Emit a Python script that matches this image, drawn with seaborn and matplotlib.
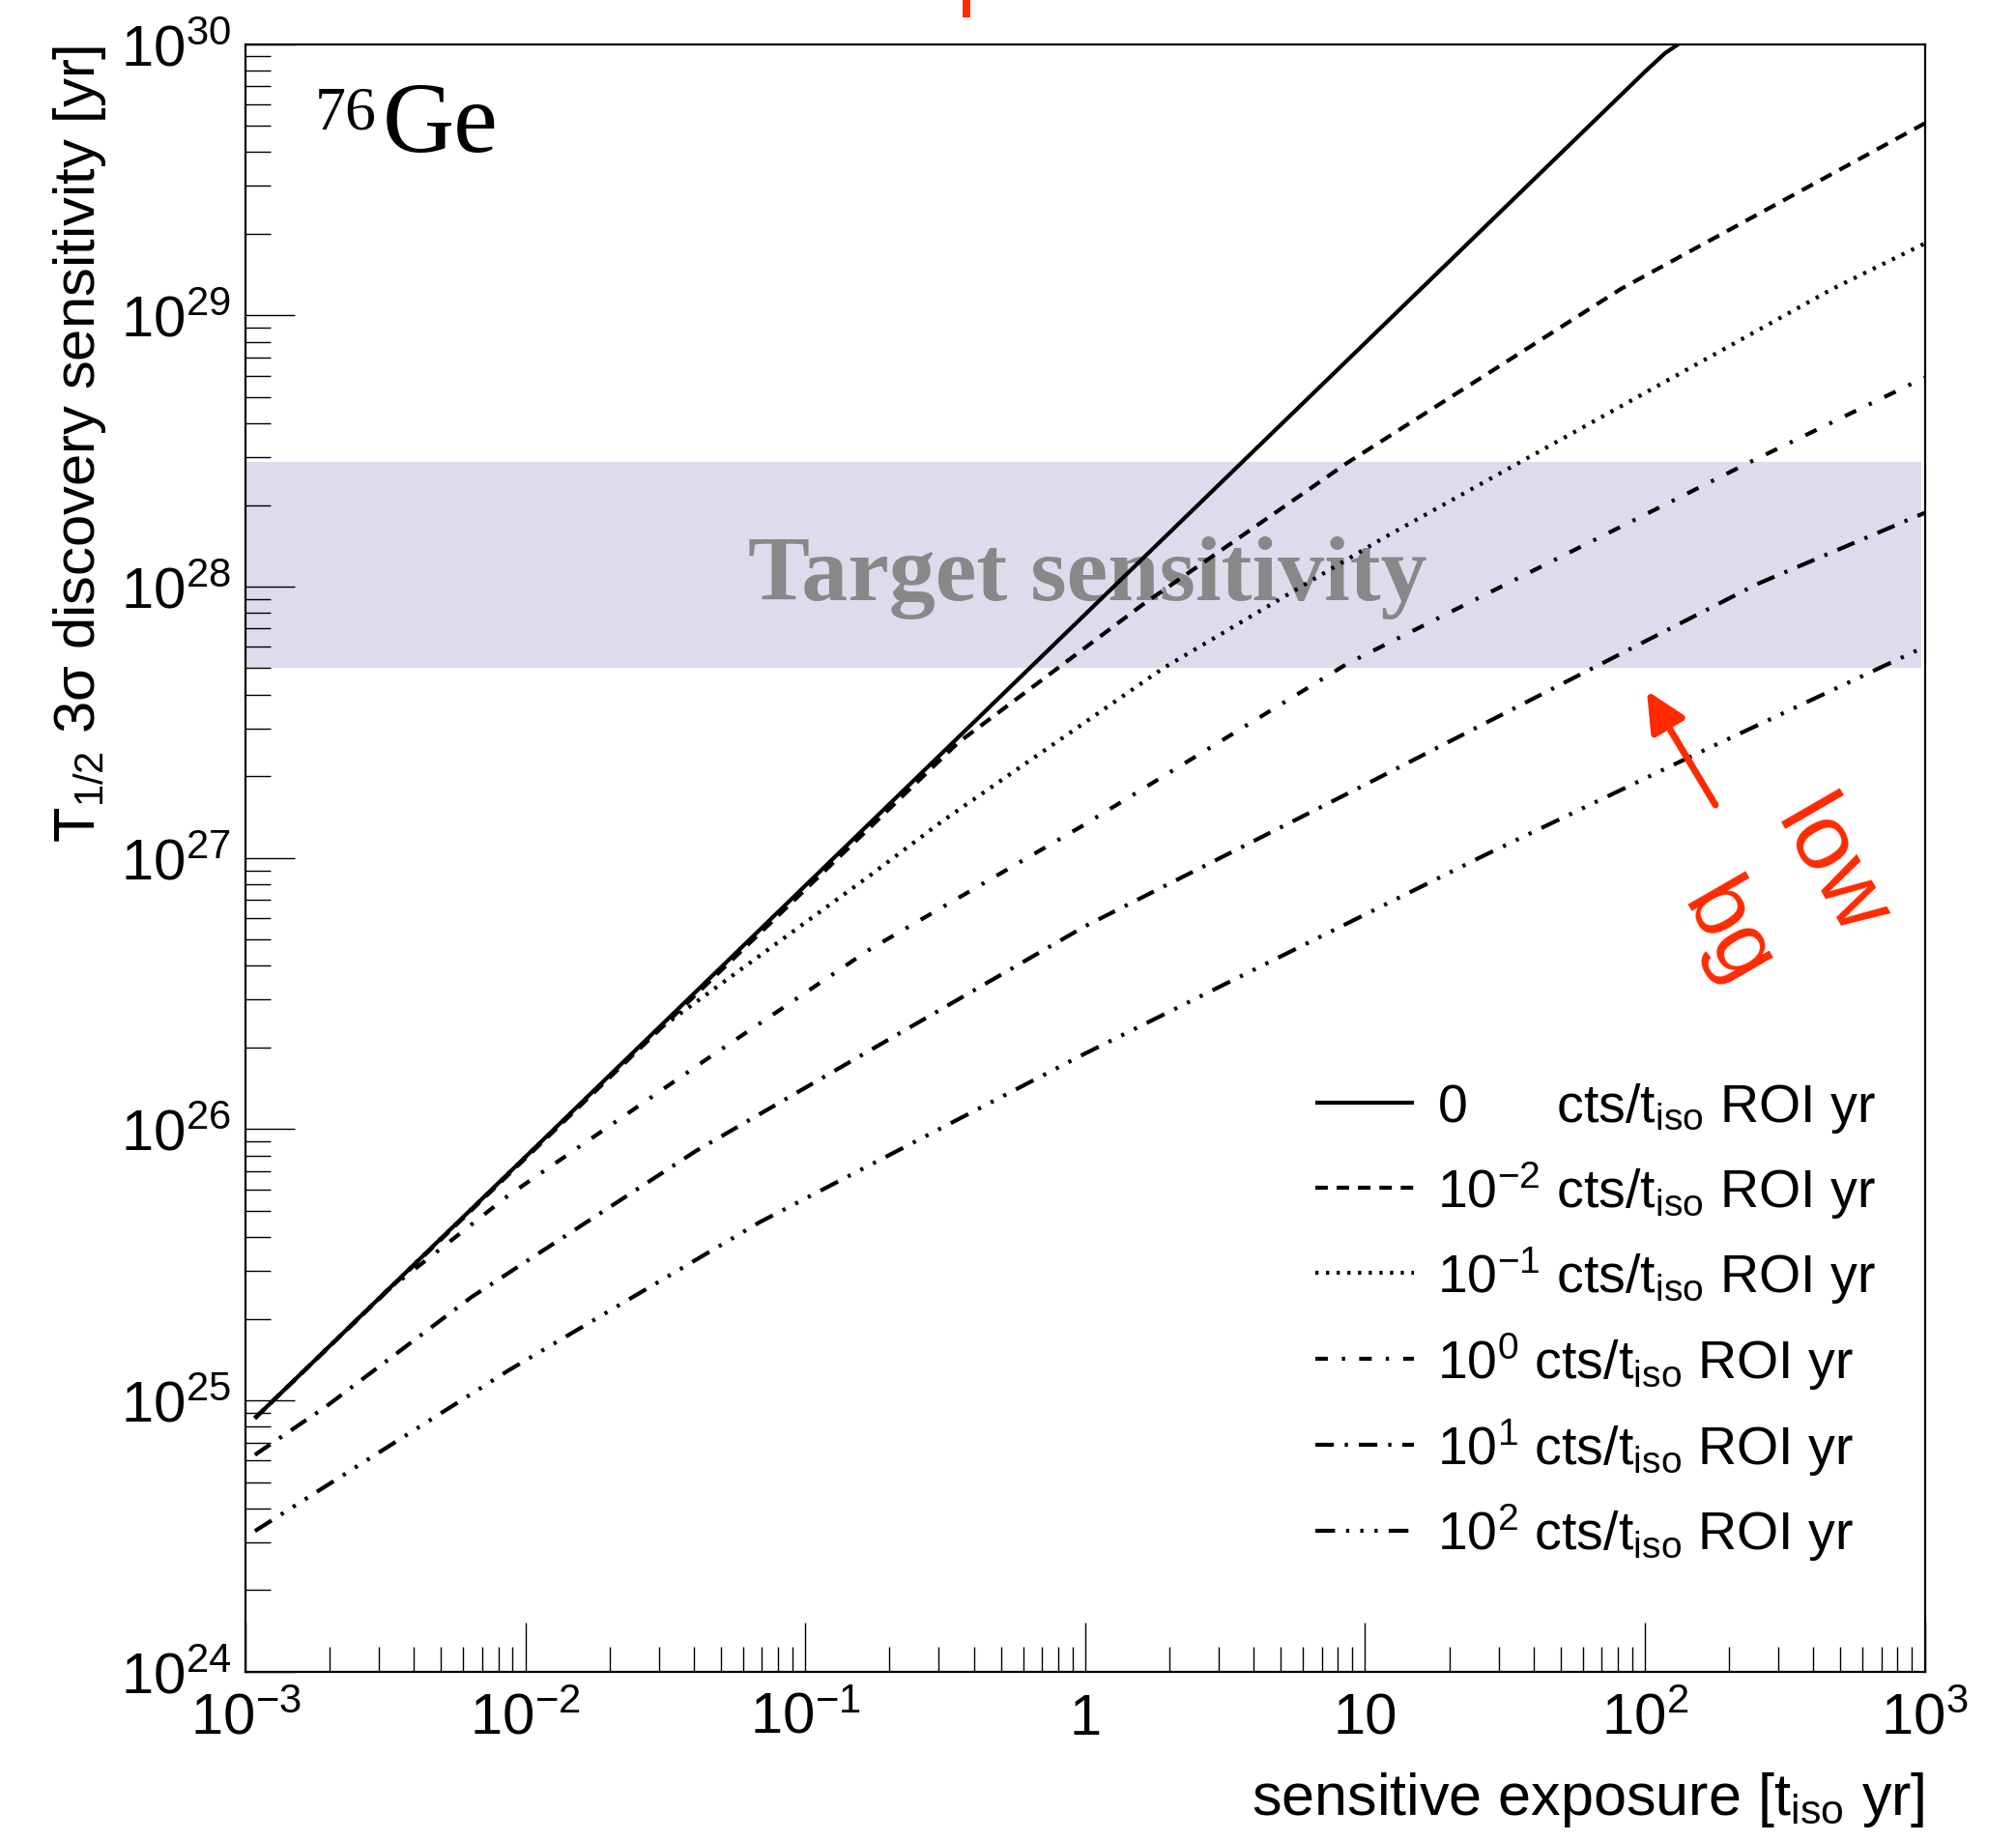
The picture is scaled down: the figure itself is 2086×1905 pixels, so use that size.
import matplotlib
matplotlib.use("Agg")
import matplotlib.pyplot as plt
import seaborn as sns
import pandas as pd
from matplotlib.patches import FancyArrowPatch, Rectangle
from matplotlib.ticker import FixedLocator, LogLocator, NullFormatter

# ---------------- data ----------------
exp_b0 = [1.08e-3, 1e-2, 1e-1, 1, 10, 100, 118, 132]
t_b0 = [8.6e24, 7.9e25, 7.9e26, 7.9e27, 7.9e28, 7.9e29, 9.25e29, 1.0e30]

exp_bm2 = [1.08e-3, 0.352, 1.61, 8.65, 82, 1000]
t_bm2 = [8.6e24, 2.66e27, 8.6e27, 2.86e28, 1.25e29, 5.1e29]

exp_bm1 = [1.08e-3, 0.029, 0.17, 0.31, 1.9, 11.5, 467, 1000]
t_bm1 = [8.6e24, 2.28e26, 8.6e26, 1.37e27, 5.0e27, 1.5e28, 1.25e29, 1.84e29]

exp_b00 = [1.08e-3, 3.15e-3, 8.7e-3, 0.0444, 0.17, 0.975, 8.65, 238, 1000]
t_b00 = [8.6e24, 2.5e25, 5.7e25, 1.81e26, 4.6e26, 1.31e27, 5.2e27, 2.88e28, 5.9e28]

exp_b01 = [1.08e-3, 1.94e-3, 6.4e-3, 0.0406, 0.17, 1.0, 9.7, 65, 251, 1000]
t_b01 = [6.3e24, 9.5e24, 2.4e25, 8.3e25, 1.95e26, 5.6e26, 1.83e27, 5.0e27, 1.02e28, 1.87e28]

exp_b02 = [1.08e-3, 8.7e-3, 0.069, 1.0, 26.6, 143, 1000]
t_b02 = [3.3e24, 1.29e25, 4.55e25, 1.9e26, 1.02e27, 2.34e27, 6.0e27]

legend_labels = [
    r"0      cts/t$_{\rm iso}$ ROI yr",
    r"10$^{-2}$ cts/t$_{\rm iso}$ ROI yr",
    r"10$^{-1}$ cts/t$_{\rm iso}$ ROI yr",
    r"10$^{0}$ cts/t$_{\rm iso}$ ROI yr",
    r"10$^{1}$ cts/t$_{\rm iso}$ ROI yr",
    r"10$^{2}$ cts/t$_{\rm iso}$ ROI yr",
]

band_low, band_high = 5.0e27, 2.87e28

xticks = [1e-3, 1e-2, 1e-1, 1, 10, 1e2, 1e3]
xticklabels = [r"$10^{-3}$", r"$10^{-2}$", r"$10^{-1}$", "1", "10", r"$10^{2}$", r"$10^{3}$"]
yticks = [1e24, 1e25, 1e26, 1e27, 1e28, 1e29, 1e30]
yticklabels = [r"$10^{24}$", r"$10^{25}$", r"$10^{26}$", r"$10^{27}$", r"$10^{28}$", r"$10^{29}$", r"$10^{30}$"]

# ---------------- style ----------------
sns.set_style("white")
plt.rcParams["font.family"] = ["Liberation Sans", "DejaVu Sans"]
plt.rcParams["mathtext.fontset"] = "custom"
plt.rcParams["mathtext.rm"] = "Liberation Sans"
plt.rcParams["mathtext.it"] = "Liberation Sans:italic"
plt.rcParams["mathtext.bf"] = "Liberation Sans:bold"
plt.rcParams["mathtext.sf"] = "Liberation Sans"
plt.rcParams["mathtext.default"] = "regular"
for k in ["text.color", "axes.labelcolor", "xtick.color", "ytick.color", "axes.edgecolor"]:
    plt.rcParams[k] = "black"

W, H = 2086, 1906
fig = plt.figure(figsize=(W / 100, H / 100), dpi=100)
ax = fig.add_axes([254.1 / W, 1 - 1730.8 / H, 1737.4 / W, 1684.2 / H])
ax.set_xscale("log")
ax.set_yscale("log")

RED = "#ff2a00"
LW = 3.0

# band
ax.axhspan(band_low, band_high, xmin=0, xmax=0.9977, color="#dcdcec", lw=0, zorder=0)
ax.text(0.5396, 1 - 621 / H, "Target sensitivity", transform=fig.transFigure,
        ha="center", va="baseline", fontsize=69, fontweight="bold",
        family="Liberation Serif", color="#888888", zorder=1)

series = [
    (exp_b0, t_b0, "-"),
    (exp_bm2, t_bm2, (0, (3.1, 2.2))),
    (exp_bm1, t_bm1, (0, (0.8, 1.85))),
    (exp_b00, t_b00, (0, (3.1, 3.5, 0.8, 3.5))),
    (exp_b01, t_b01, (0, (4.6, 2.7, 0.8, 2.7))),
    (exp_b02, t_b02, (0, (4.9, 2.73, 0.8, 2.73, 0.8, 2.73, 0.8, 2.73))),
]
handles = []
for (xs, ys, ls), lab in zip(series, legend_labels):
    df = pd.DataFrame({"exposure": xs, "T": ys})
    sns.lineplot(data=df, x="exposure", y="T", ax=ax, color="black",
                 linestyle=ls, zorder=3, legend=False, sort=True, estimator=None)
    ln = ax.lines[-1]
    ln.set_linewidth(LW)
    if ls != "-":
        ln.set_linestyle(ls)
    ln.set_solid_capstyle("butt")
    ln.set_dash_capstyle("butt")
    handles.append(ln)

ax.set_xlim(1e-3, 1e3)
ax.set_ylim(1e24, 1e30)

ax.xaxis.set_major_locator(FixedLocator(xticks))
ax.set_xticklabels(xticklabels)
ax.yaxis.set_major_locator(FixedLocator(yticks))
ax.set_yticklabels(yticklabels)
ax.xaxis.set_minor_locator(LogLocator(base=10, subs=range(2, 10), numticks=50))
ax.yaxis.set_minor_locator(LogLocator(base=10, subs=range(2, 10), numticks=50))
ax.xaxis.set_minor_formatter(NullFormatter())
ax.yaxis.set_minor_formatter(NullFormatter())

ax.tick_params(which="both", direction="in", bottom=True, left=True, top=False, right=False,
               width=1.0, color="black")
ax.tick_params(which="major", length=37)
ax.tick_params(which="minor", length=18.5)
ax.tick_params(axis="x", which="major", labelsize=43, pad=15)
ax.tick_params(axis="y", which="major", labelsize=43, pad=11)
for sp in ax.spines.values():
    sp.set_linewidth(1.6)
    sp.set_color("black")
ax.grid(False)

ax.set_ylabel(r"T$_{1/2}$ 3σ discovery sensitivity [yr]", loc="top", fontsize=43)
ax.yaxis.set_label_coords(-0.082, 1.0)
ax.set_xlabel(r"sensitive exposure [t$_{\rm iso}$ yr]", loc="right", fontsize=44)
ax.xaxis.set_label_coords(1.0, -0.0600)

ax.legend(handles, legend_labels, loc="upper left", bbox_to_anchor=(1361 / W, 1 - 1119 / H),
          bbox_transform=fig.transFigure, frameon=False, fontsize=40,
          handlelength=1.83, handletextpad=0.43, labelspacing=0.45,
          borderpad=0, borderaxespad=0)

# 76Ge label
fig.text(326 / W, 1 - 133 / H, "76", family="Liberation Serif", fontsize=46,
         ha="left", va="baseline")
fig.text(396 / W, 1 - 157 / H, "Ge", family="Liberation Serif", fontsize=74,
         ha="left", va="baseline")

# red "low bg" arrow and text
arr = FancyArrowPatch((1775 / W, 1 - 834 / H), (1704 / W, 1 - 715.7 / H),
                      transform=fig.transFigure, arrowstyle="-|>,head_length=25,head_width=12",
                      mutation_scale=1, lw=5, color=RED, shrinkA=0, shrinkB=0, zorder=5)
fig.add_artist(arr)
fig.text(1893 / W, 1 - 900 / H, "low", rotation=-60, rotation_mode="anchor",
         ha="center", va="center", fontsize=70, color=RED)
fig.text(1787 / W, 1 - 968 / H, "bg", rotation=-60, rotation_mode="anchor",
         ha="center", va="center", fontsize=68, color=RED)

# red mark at the very top
fig.add_artist(Rectangle((996 / W, 1 - 19 / H), 8 / W, 19 / H, transform=fig.transFigure,
                         color=RED, lw=0))

fig.savefig("out.png", dpi=100)
